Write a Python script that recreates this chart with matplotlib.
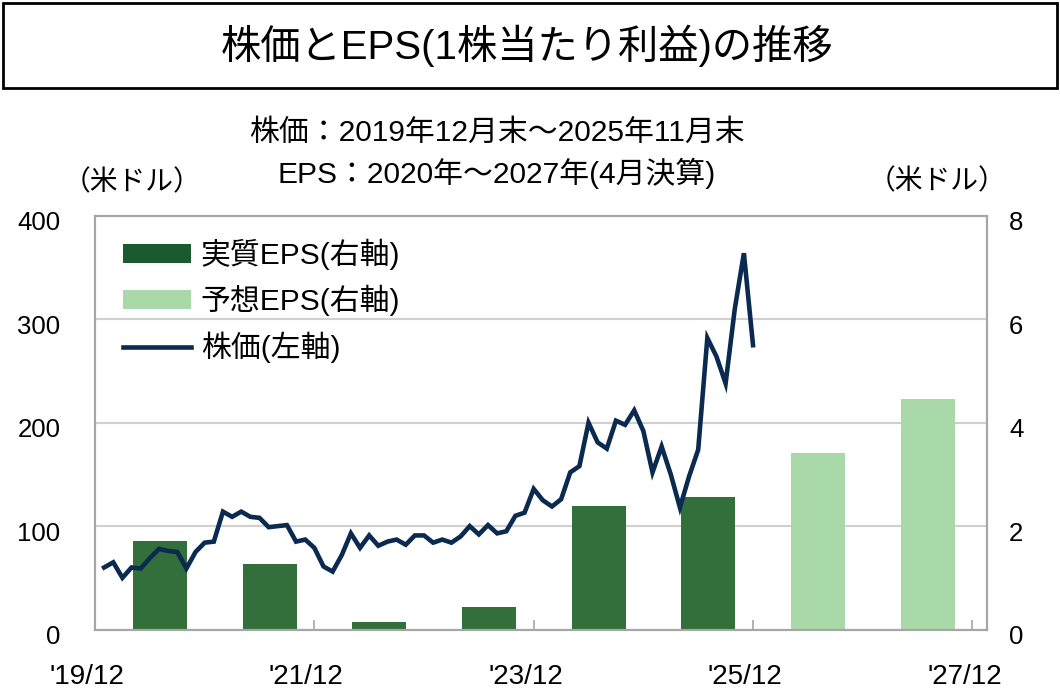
import matplotlib.pyplot as plt
import matplotlib.transforms as mtransforms
import numpy as np
from matplotlib.patches import Patch, Rectangle
from matplotlib.lines import Line2D

plt.rcParams['font.family'] = ['Liberation Sans', 'Noto Sans CJK JP', 'DejaVu Sans']

# month-end share price, 2019/12 .. 2025/11 (USD)
price = [60, 65, 50, 60, 59, 69, 78, 76, 75, 59, 75, 84,
         85, 114, 109, 114, 109, 108, 99, 100, 101, 85, 87, 79,
         61, 56, 72, 93, 79, 91, 81, 85, 87, 82, 91, 91,
         84, 87, 84, 90, 100, 92, 101, 93, 95, 110, 113, 136,
         125, 119, 126, 152, 158, 200, 181, 175, 202, 198, 212, 192,
         152, 177, 150, 118, 148, 174, 282, 264, 238, 310, 364, 275]
# EPS by fiscal year (April year-end)
eps_years = [2020, 2021, 2022, 2023, 2024, 2025]
eps_actual = [1.72, 1.27, 0.14, 0.43, 2.38, 2.56]
fc_years = [2026, 2027]
eps_forecast = [3.42, 4.45]

xtick_labels = ["'19/12", "'21/12", "'23/12", "'25/12", "'27/12"]

dark = '#336F3A'
light = '#A9D8A9'
navy = '#0B2A50'
grey = '#A6A6A6'

fig = plt.figure(figsize=(10.6, 6.94), dpi=100)

# title box
fig.patches.append(Rectangle((3 / 1060, 1 - 88 / 694), 1054 / 1060, 85 / 694,
                             transform=fig.transFigure, fill=False,
                             edgecolor='black', linewidth=2))
fig.text(527 / 1060, 1 - 46 / 694, '株価とEPS(1株当たり利益)の推移', ha='center',
         va='center', fontsize=29)
fig.text(497 / 1060, 1 - 133 / 694, '株価：2019年12月末～2025年11月末',
         ha='center', va='center', fontsize=21.5)
fig.text(497 / 1060, 1 - 173 / 694, 'EPS：2020年～2027年(4月決算)',
         ha='center', va='center', fontsize=21.5)
fig.text(132 / 1060, 1 - 183 / 694, '（米ドル）', ha='center', va='center',
         fontsize=20)
fig.text(937 / 1060, 1 - 182 / 694, '（米ドル）', ha='center', va='center',
         fontsize=20)

ax = fig.add_axes([95 / 1060, 1 - 629.5 / 694, 892 / 1060, 413.5 / 694])
ax2 = ax.twinx()

# bars (right axis), month index counted from 2019/12
bx_a = [(y - 2020) * 12 + 7.1 for y in eps_years]
bx_f = [(y - 2020) * 12 + 7.1 for y in fc_years]
ax2.bar(bx_a, eps_actual, width=5.9, color=dark, zorder=2)
ax2.bar(bx_f, eps_forecast, width=5.9, color=light, zorder=2)
ax2.set_ylim(0, 8)
ax2.set_yticks([0, 2, 4, 6, 8])
ax2.yaxis.grid(True, color='#D0D0D0', linewidth=1.5, zorder=0)
ax2.set_axisbelow(True)

# price line (left axis) on top of the bars
px = np.arange(len(price)) + 1
ax.plot(px, price, color=navy, linewidth=3.3, solid_joinstyle='miter')
ax.set_ylim(0, 400)
ax.set_yticks([0, 100, 200, 300, 400])
ax.set_zorder(ax2.get_zorder() + 1)
ax.patch.set_visible(False)

ax.set_xlim(0, 97.6)
ax.set_xticks([0, 24, 48, 72, 96])
ax.set_xticklabels(xtick_labels)

for a in (ax, ax2):
    for s in a.spines.values():
        s.set_color(grey)
        s.set_linewidth(1.5)
ax.tick_params(axis='x', direction='in', length=7, width=1.2, color=grey,
               pad=25, labelsize=20)
ax.tick_params(axis='y', length=0, pad=25, labelsize=18.5)
ax2.tick_params(axis='y', length=0, pad=16, labelsize=18.5)
ax2.tick_params(axis='x', length=0)

# small nudges of the tick labels
shift_x = mtransforms.ScaledTranslation(-8 / 100, 0, fig.dpi_scale_trans)
for t in ax.get_xticklabels():
    t.set_transform(t.get_transform() + shift_x)
shift_y = mtransforms.ScaledTranslation(0, -5 / 100, fig.dpi_scale_trans)
for t in ax.get_yticklabels() + ax2.get_yticklabels():
    t.set_transform(t.get_transform() + shift_y)

handles = [Patch(facecolor='#1B5A2E', edgecolor='none'),
           Patch(facecolor=light, edgecolor='none'),
           Line2D([], [], color=navy, linewidth=3.3)]
labels = ['実質EPS(右軸)', '予想EPS(右軸)', '株価(左軸)']
ax.legend(handles, labels, loc='upper left', bbox_to_anchor=(0.018, 0.975),
          frameon=False, fontsize=21.5, handlelength=2.27, handleheight=0.6,
          labelspacing=0.52, handletextpad=0.33, borderaxespad=0)

fig.savefig('out.png', dpi=100)
